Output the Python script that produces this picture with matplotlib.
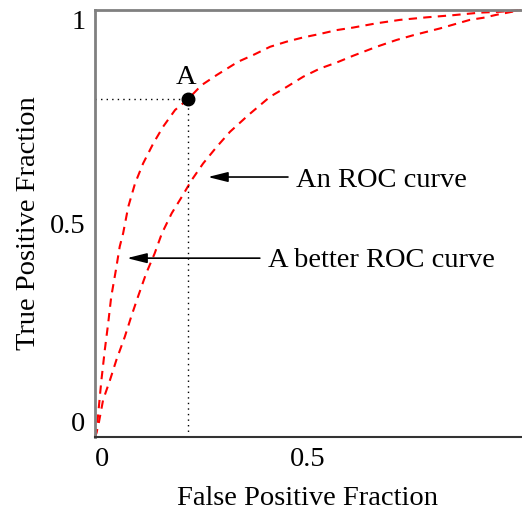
import matplotlib
matplotlib.use("Agg")

import matplotlib.pyplot as plt

# --- data ------------------------------------------------------------------
better_fpr = [0.0, 0.003, 0.009, 0.015, 0.023, 0.031, 0.038, 0.049, 0.058, 0.066,
              0.078, 0.094, 0.113, 0.137, 0.160, 0.188, 0.219, 0.250, 0.286,
              0.336, 0.372, 0.411, 0.450, 0.489, 0.528, 0.567, 0.606, 0.661,
              0.716, 0.779, 0.841, 0.904, 0.951, 1.0]
better_tpr = [0.0, 0.009, 0.070, 0.133, 0.204, 0.267, 0.328, 0.391, 0.446, 0.477,
              0.539, 0.594, 0.641, 0.688, 0.727, 0.766, 0.792, 0.824, 0.848,
              0.879, 0.895, 0.914, 0.926, 0.936, 0.944, 0.953, 0.959, 0.969,
              0.977, 0.983, 0.988, 0.994, 0.996, 1.0]

roc_fpr = [0.0, 0.007, 0.019, 0.035, 0.050, 0.070, 0.085, 0.101, 0.120, 0.140,
           0.157, 0.180, 0.204, 0.227, 0.254, 0.286, 0.317, 0.360, 0.411,
           0.450, 0.489, 0.528, 0.567, 0.606, 0.661, 0.708, 0.747, 0.810,
           0.845, 0.880, 0.912, 0.943, 0.974, 1.0]
roc_tpr = [0.0, 0.023, 0.087, 0.133, 0.180, 0.235, 0.282, 0.329, 0.383, 0.430,
           0.477, 0.524, 0.563, 0.602, 0.641, 0.680, 0.715, 0.754, 0.797,
           0.820, 0.844, 0.863, 0.877, 0.893, 0.914, 0.930, 0.941, 0.957,
           0.967, 0.977, 0.982, 0.989, 0.995, 1.0]

point_a = (0.218, 0.792)
tick_vals = [0, 0.5, 1]
tick_labels = ["0", "0.5", "1"]

FONT = "Liberation Serif"
FS = 20.5
plt.rcParams["font.family"] = FONT

fig = plt.figure(figsize=(5.22, 5.13), dpi=100)
ax = fig.add_axes([0.182, 0.148, 0.816, 0.8324])

dash = (0, (4, 3))
ax.plot(better_fpr, better_tpr, color="red", lw=1.5, ls=dash, clip_on=False)
ax.plot(roc_fpr, roc_tpr, color="red", lw=1.5, ls=dash, clip_on=False)

# dotted guides to point A
ax.plot([0, point_a[0]], [point_a[1], point_a[1]], color="black", lw=1, ls=(0, (1, 3)))
ax.plot([point_a[0], point_a[0]], [0, point_a[1]], color="black", lw=1, ls=(0, (1, 3)))
ax.plot(*point_a, "o", color="black", ms=9, zorder=5)
ax.text(point_a[0] - 0.004, point_a[1] + 0.05, "A", ha="center", va="center", fontsize=FS)

arrow = dict(arrowstyle="-|>,head_length=0.6,head_width=0.15", color="black",
             lw=1.2, mutation_scale=20, shrinkA=0, shrinkB=0)
ax.annotate("", xy=(0.265, 0.609), xytext=(0.453, 0.609), arrowprops=arrow)
ax.text(0.472, 0.600, "An ROC curve", ha="left", va="center", fontsize=FS)
ax.annotate("", xy=(0.075, 0.419), xytext=(0.387, 0.419), arrowprops=arrow)
ax.text(0.406, 0.413, "A better ROC curve", ha="left", va="center", fontsize=FS)

ax.set_xlim(0, 1)
ax.set_ylim(0, 1)
ax.set_xticks(tick_vals)
ax.set_yticks(tick_vals)
ax.set_xticklabels(tick_labels, fontsize=FS)
ax.set_yticklabels(tick_labels, fontsize=FS)
ax.tick_params(length=0, pad=7)
xl = ax.get_xticklabels()
xl[0].set_ha("left")
xl[-1].set_ha("left")
yl = ax.get_yticklabels()
yl[0].set_va("bottom")
yl[-1].set_va("top")

ax.spines["right"].set_visible(False)
ax.spines["top"].set_color("#808080")
ax.spines["left"].set_color("#808080")
ax.spines["top"].set_linewidth(2)
ax.spines["left"].set_linewidth(2)
ax.spines["bottom"].set_color("#333333")
ax.spines["bottom"].set_linewidth(1.5)

ax.set_xlabel("False Positive Fraction", fontsize=FS, labelpad=10)
ax.set_ylabel("True Positive Fraction", fontsize=FS, labelpad=6)

fig.savefig("out.png", dpi=100)
